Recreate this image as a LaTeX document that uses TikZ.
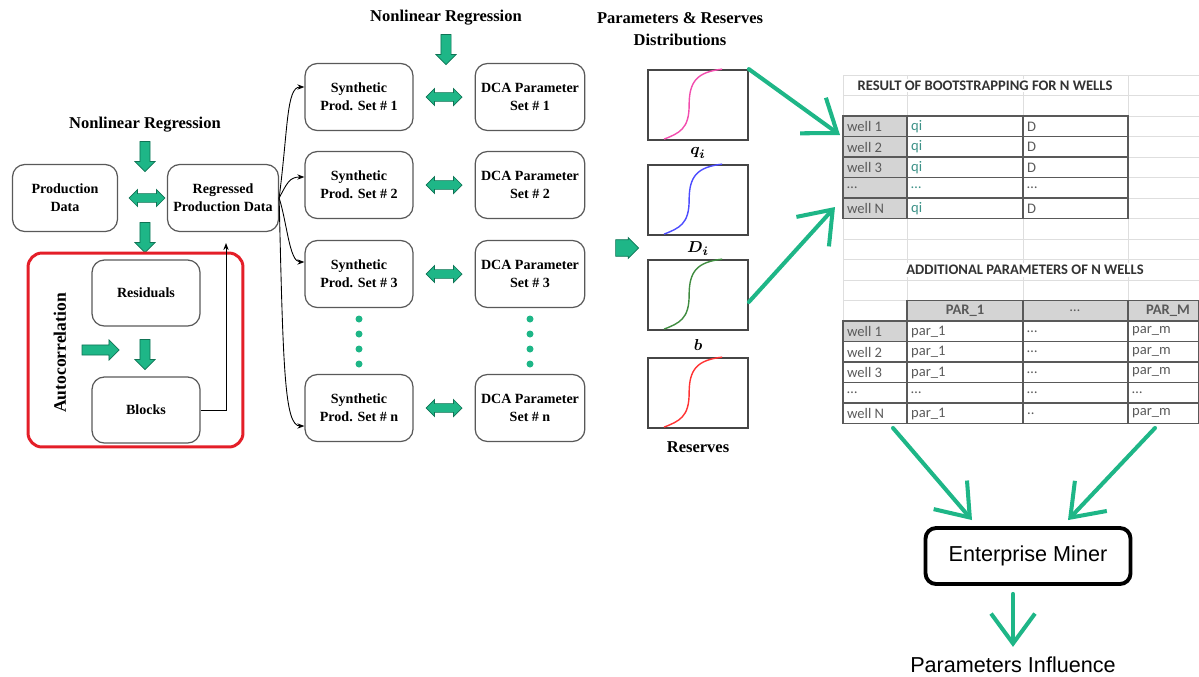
\documentclass[tikz,border=0pt]{standalone}
\usepackage{fontspec}
\setmainfont{Liberation Serif}
\newfontfamily\arialfont{Liberation Sans}
\newfontfamily\calfont{Carlito}
\usepackage{bm}
\usetikzlibrary{shapes.arrows,arrows.meta,calc}
\definecolor{grnfill}{RGB}{30,182,135}
\definecolor{grnedge}{RGB}{15,115,85}
\definecolor{cellgray}{RGB}{212,212,212}
\definecolor{gridgray}{RGB}{222,222,222}
\definecolor{celltext}{RGB}{90,90,90}
\definecolor{qitext}{RGB}{60,145,135}
\definecolor{boxred}{RGB}{228,30,40}
\newcommand{\celldots}{\ldots}
\tikzset{
  box/.style={draw=gray!70!black, rounded corners=7pt, line width=0.7pt,
    minimum width=2.16cm, minimum height=1.34cm, align=center,
    font=\fontsize{8}{10.4}\selectfont\bfseries},
  title/.style={align=center, font=\fontsize{9.4}{12.3}\selectfont\bfseries},
  blockarr/.style={single arrow, fill=grnfill, draw=grnedge, line width=0.4pt,
    inner sep=2.7pt, minimum height=0.6cm, minimum width=0.38cm,
    single arrow head extend=0.1cm},
  dblarr/.style={double arrow, fill=grnfill, draw=grnedge, line width=0.4pt,
    inner sep=2.2pt, minimum height=0.72cm, minimum width=0.34cm,
    double arrow head extend=0.08cm},
  conn/.style={-{Stealth[length=4pt,width=3pt]}, line width=0.5pt},
  bigarr/.style={draw=grnfill, line width=2.3pt, line cap=round,
    -{Straight Barb[length=17pt,width=25pt]}},
  chart/.style={draw=gray!55!black, line width=1pt, minimum width=2cm,
    minimum height=1.4cm, inner sep=0pt},
  cell/.style={anchor=west, inner sep=1pt, text=celltext,
    font=\calfont\fontsize{8.3}{9}\selectfont},
  sheettitle/.style={fill=white, inner xsep=2pt, inner ysep=1pt, text=black!80,
    font=\calfont\fontsize{8.3}{9}\selectfont\bfseries}
}
\begin{document}
\begin{tikzpicture}[x=0.02cm,y=-0.02cm]
  \useasboundingbox (0,0) rectangle (1199,676);

  % left part
  \node[title] (nlreg1) at (145,125) {Nonlinear Regression};
  \node[blockarr, rotate=-90] (down1) at (145,154) {};
  \node[box, minimum width=2.1cm] (prod) at (65,198) {Production\\Data};
  \node[box, minimum width=2.14cm] (reg) at (223,198) {Regressed\\Production Data};
  \node[dblarr] (dbl0) at (147,198) {};
  \node[blockarr, rotate=-90] (down2) at (145,235) {};
  \node[draw=boxred, line width=1.7pt, rounded corners=8pt, minimum width=4.3cm,
    minimum height=3.88cm] (acbox) at (135.5,350) {};
  \node[title, font=\fontsize{10}{12}\selectfont\bfseries, rotate=90] (aclab) at (60,353) {Autocorrelation};
  \node[box, minimum height=1.32cm] (resid) at (146,293) {Residuals};
  \node[box, minimum height=1.32cm] (blk) at (146,410) {Blocks};
  \node[blockarr, minimum height=0.74cm, minimum width=0.34cm] (right1) at (98,350) {};
  \node[blockarr, rotate=-90] (down3) at (145,352) {};
  \coordinate (fb) at (226,243);
  \draw[conn] (blk.east) -| (fb);

  % synthetic sets and DCA parameters
  \node[title] (nlreg2) at (446,18) {Nonlinear Regression};
  \node[blockarr, rotate=-90] (down4) at (446,47) {};
  \foreach \i/\yc/\n in {1/97/1, 2/185/2, 3/274/3, 4/408/n} {
    \node[box] (syn\i) at (359,\yc) {Synthetic\\Prod. Set \# \n};
    \node[box] (dca\i) at (530,\yc) {DCA Parameter\\Set \# \n};
    \node[dblarr] (dbl\i) at (444,\yc) {};
  }
  \draw[conn] (reg.east) .. controls +(9,-70) and +(-18,0) .. ($(syn1.west)+(0,-10)$);
  \draw[conn] (reg.east) .. controls +(8,-15) and +(-15,0) .. ($(syn2.west)+(0,-8)$);
  \draw[conn] (reg.east) .. controls +(8,25) and +(-15,0) .. ($(syn3.west)+(0,-12)$);
  \draw[conn] (reg.east) .. controls +(4,170) and +(-20,0) .. ($(syn4.west)+(0,18)$);
  \foreach \yd in {319,334,349,364} {
    \fill[grnfill] (359,\yd) circle (0.07cm);
    \fill[grnfill] (530,\yd) circle (0.07cm);
  }

  % distributions
  \node[title] (distlab) at (680,29) {Parameters \& Reserves\\Distributions};
  \node[blockarr, inner sep=4pt, minimum height=0.46cm, minimum width=0.42cm,
    single arrow head extend=0.04cm] (right2) at (623,248) {};
  \foreach \nm/\yc/\col/\lab/\ly in {cq/105/magenta!70/{$\bm{q_i}$}/153,
      cd/200/blue!70/{$\bm{D_i}$}/249, cb/295/green!40!black!75/{$\bm{b}$}/345,
      cr/393/red!80/{Reserves}/447} {
    \node[chart] (\nm) at (698,\yc) {};
    \begin{scope}[shift={(\nm.north west)}]
      \draw[\col, line width=0.8pt] (17,70) .. controls (32,64) and (42,60) .. (42,36)
        .. controls (42,12) and (50,3) .. (75,0);
    \end{scope}
    \node[title] (\nm lab) at (698,\ly) {\lab};
  }

  % spreadsheet
  \foreach \k in {0,...,17}
    \draw[gridgray, line width=0.5pt] (843,75+20.5*\k) -- (1199,75+20.5*\k);
  \foreach \c in {843,907,1023,1128}
    \draw[gridgray, line width=0.5pt] (\c,75) -- (\c,423.5);
  \foreach \k in {2,...,6,12,...,16}
    \fill[cellgray] (843,75+20.5*\k) rectangle (907,95.5+20.5*\k);
  \fill[cellgray] (907,300.5) rectangle (1199,321);
  \begin{scope}[draw=black!65, line width=0.8pt]
    \foreach \k in {2,...,6}
      \draw (843,75+20.5*\k) rectangle (1128,95.5+20.5*\k);
    \draw (907,116) -- (907,218.5) (1023,116) -- (1023,218.5);
    \foreach \k in {12,...,16}
      \draw (843,75+20.5*\k) rectangle (1199,95.5+20.5*\k);
    \draw (907,300.5) rectangle (1199,321);
    \draw (907,300.5) -- (907,423.5) (1023,300.5) -- (1023,423.5) (1128,300.5) -- (1128,423.5);
  \end{scope}
  \node[sheettitle] (restitle) at (985,85.5) {RESULT OF BOOTSTRAPPING FOR N WELLS};
  \node[sheettitle] (addtitle) at (1025,270) {ADDITIONAL PARAMETERS OF N WELLS};
  \foreach \k/\w/\q/\d in {2/well 1/qi/D, 3/well 2/qi/D, 4/well 3/qi/D,
      5/\celldots/\celldots/\celldots, 6/well N/qi/D} {
    \node[cell] (wa\k) at (845,85.5+20.5*\k) {\w};
    \node[cell, text=qitext] (qa\k) at (909,85.5+20.5*\k) {\q};
    \node[cell] (da\k) at (1025,85.5+20.5*\k) {\d};
  }
  \node[cell, anchor=center, font=\calfont\fontsize{8.3}{9}\selectfont\bfseries] (par1) at (965,311) {PAR\_1};
  \node[cell, anchor=center] (parx) at (1075,311) {\celldots};
  \node[cell, anchor=center, font=\calfont\fontsize{8.3}{9}\selectfont\bfseries] (parm) at (1168,311) {PAR\_M};
  \foreach \k/\w/\p/\x/\m in {12/well 1/par\_1/\celldots/par\_m, 13/well 2/par\_1/\celldots/par\_m,
      14/well 3/par\_1/\celldots/par\_m, 15/\celldots/\celldots/\celldots/\celldots,
      16/well N/par\_1/../par\_m} {
    \node[cell] (wb\k) at (845,85.5+20.5*\k) {\w};
    \node[cell] (pb\k) at (909,85.5+20.5*\k) {\p};
    \node[cell] (xb\k) at (1025,85.5+20.5*\k) {\x};
    \node[cell] (mb\k) at (1130,85.5+20.5*\k) {\m};
  }

  % arrows to and from the spreadsheet
  \coordinate (tin1) at (840,135);
  \coordinate (tin2) at (835,207);
  \draw[bigarr] (cq.north east) -- (tin1);
  \draw[bigarr] ($(cb.east)+(0,7)$) -- (tin2);
  \node[draw, line width=2.2pt, rounded corners=6pt, minimum width=4.1cm,
    minimum height=1.12cm, font=\arialfont\fontsize{12.3}{14}\selectfont] (em) at (1028,556) {Enterprise Miner};
  \node[font=\arialfont\fontsize{12.3}{14}\selectfont] (pinf) at (1013,665) {Parameters Influence};
  \coordinate (tout1) at (893,428);
  \coordinate (tout2) at (1155,428);
  \draw[bigarr] (tout1) -- ($(em.north)+(-56,-6)$);
  \draw[bigarr] (tout2) -- ($(em.north)+(40,-6)$);
  \draw[bigarr] ($(em.south)+(-15,8)$) -- ($(pinf.north)+(0,-4)$);
\end{tikzpicture}
\end{document}
